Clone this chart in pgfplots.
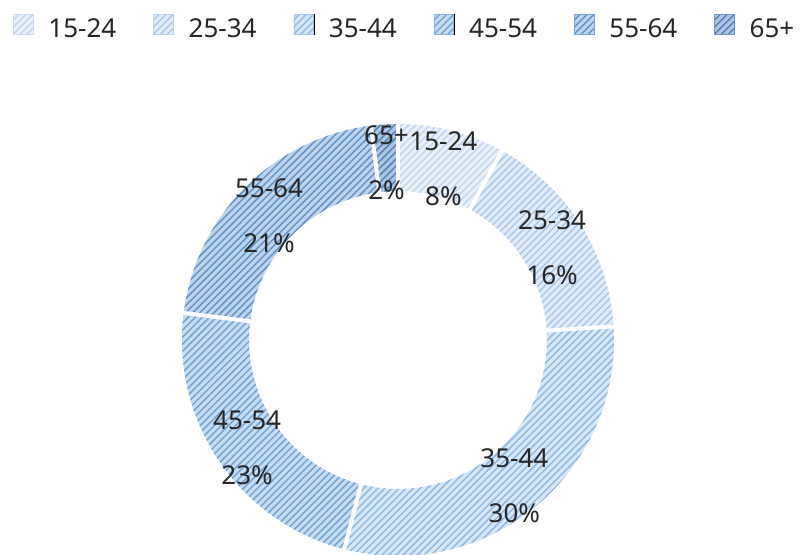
\documentclass[border=0pt]{standalone}
\usepackage{pgfplots}
\pgfplotsset{compat=1.18}
\usepackage{pgfplotstable}
\usetikzlibrary{patterns.meta}
\usepackage{fontspec}
\setmainfont{Noto Sans}
\definecolor{bg0}{HTML}{EAF1FA}\definecolor{ln0}{HTML}{C2D6EE}
\definecolor{bg1}{HTML}{E2ECF8}\definecolor{ln1}{HTML}{AAC8EA}
\definecolor{bg2}{HTML}{D8E7F6}\definecolor{ln2}{HTML}{8EB8E5}
\definecolor{bg3}{HTML}{C9DDF2}\definecolor{ln3}{HTML}{6EA4DA}
\definecolor{bg4}{HTML}{BFD4EC}\definecolor{ln4}{HTML}{5F93CB}
\definecolor{bg5}{HTML}{AEC6E2}\definecolor{ln5}{HTML}{5383BA}
\definecolor{txt}{HTML}{262626}
\pgfplotstableread{
label value
15-24 8
25-34 16
35-44 30
45-54 23
55-64 21
65+ 2
}\agedata
\def\SA#1{\csname sa#1\endcsname}
\def\EA#1{\csname ea#1\endcsname}
\def\MA#1{\csname ma#1\endcsname}
\tikzset{hatch/.style={fill=bg#1, postaction={pattern={Lines[angle=45,distance=5bp,line width=1.5bp]}, pattern color=ln#1}}}
\pgfplotsset{lgimg/.style={legend image code/.code={%
    \fill[bg#1] (0bp,-5bp) rectangle (20bp,15bp);
    \begin{scope}
    \clip (0bp,-5bp) rectangle (20bp,15bp);
    \foreach \k in {-21,-14,...,21} {\draw[ln#1, line width=1.5bp] (\k bp,-5bp) -- ++(20bp,20bp);}
    \end{scope}
    \draw[ln#1!70!bg#1, line width=0.5bp] (0.25bp,-4.75bp) rectangle (19.75bp,14.75bp);}}}
\begin{document}%
\pgfplotstablegetrowsof{\agedata}%
\pgfmathtruncatemacro\nrows{\pgfplotsretval-1}%
\gdef\cum{0}%
\foreach \i in {0,...,\nrows}{%
\pgfplotstablegetelem{\i}{value}\of\agedata\let\v\pgfplotsretval%
\expandafter\xdef\csname pct\i\endcsname{\v}%
\pgfplotstablegetelem{\i}{label}\of\agedata%
\expandafter\xdef\csname lab\i\endcsname{\pgfplotsretval}%
\pgfmathsetmacro\a{90-3.6*\cum}%
\pgfmathsetmacro\b{90-3.6*(\cum+\v)}%
\pgfmathsetmacro\m{(\a+\b)/2}%
\expandafter\xdef\csname sa\i\endcsname{\a}%
\expandafter\xdef\csname ea\i\endcsname{\b}%
\expandafter\xdef\csname ma\i\endcsname{\m}%
\pgfmathsetmacro\c{\cum+\v}\xdef\cum{\c}%
}%
\begin{tikzpicture}
\begin{axis}[name=ax, hide axis, scale only axis, width=803bp, height=555bp,
  xmin=0, xmax=803, ymin=0, ymax=555, clip=false,
  legend columns=6,
  legend style={draw=none, fill=none, at={(axis cs:13,541)}, anchor=north west,
    inner sep=0pt, outer sep=0pt,
    font=\fontsize{26bp}{30bp}\selectfont, text=txt,
    nodes={inner sep=0pt},
    /tikz/every even column/.append style={column sep=37bp},
    /tikz/every odd column/.append style={column sep=15bp}},
  legend cell align=left]
\pgfplotsinvokeforeach{0,...,5}{
  \fill[hatch=#1]
    (axis cs:{398+216*cos(\SA{#1})},{215+216*sin(\SA{#1})})
    arc[start angle=\SA{#1}, end angle=\EA{#1}, radius=216bp]
    -- (axis cs:{398+149*cos(\EA{#1})},{215+149*sin(\EA{#1})})
    arc[start angle=\EA{#1}, end angle=\SA{#1}, radius=149bp] -- cycle;
}
\pgfplotsinvokeforeach{0,...,5}{
  \draw[white, line width=4bp] (axis cs:{398+140*cos(\SA{#1})},{215+140*sin(\SA{#1})})
    -- (axis cs:{398+225*cos(\SA{#1})},{215+225*sin(\SA{#1})});
}
\pgfplotsinvokeforeach{0,...,5}{
  \node[anchor=base, inner sep=0pt, text=txt, font=\fontsize{26bp}{30bp}\selectfont]
    at (axis cs:{398+182.5*cos(\MA{#1})},{215+182.5*sin(\MA{#1})+13}) {\csname lab#1\endcsname};
  \node[anchor=base, inner sep=0pt, text=txt, font=\fontsize{26bp}{30bp}\selectfont]
    at (axis cs:{398+182.5*cos(\MA{#1})},{215+182.5*sin(\MA{#1})-42}) {\csname pct#1\endcsname\%};
}
\addlegendimage{lgimg=0}\addlegendentry{15-24}
\addlegendimage{lgimg=1}\addlegendentry{25-34}
\addlegendimage{lgimg=2}\addlegendentry{35-44}
\addlegendimage{lgimg=3}\addlegendentry{45-54}
\addlegendimage{lgimg=4}\addlegendentry{55-64}
\addlegendimage{lgimg=5}\addlegendentry{65+}
\end{axis}
\pgfresetboundingbox
\path (ax.south west) rectangle (ax.north east);
\end{tikzpicture}%
\end{document}
